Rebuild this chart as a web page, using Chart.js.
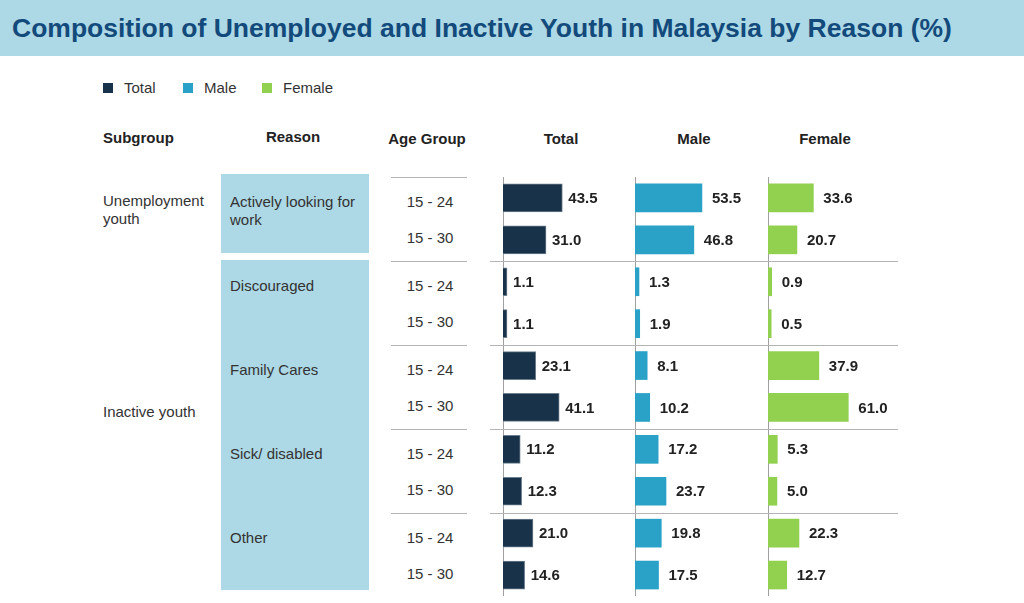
<!DOCTYPE html>
<html>
<head>
<meta charset="utf-8">
<title>Composition of Unemployed and Inactive Youth in Malaysia by Reason (%)</title>
<script src="https://cdn.jsdelivr.net/npm/chart.js@4.4.1/dist/chart.umd.min.js"></script>
<style>
  body {
    margin: 0;
    width: 1024px;
    height: 603px;
    position: relative;
    overflow: hidden;
    background: #fff;
    font-family: "Liberation Sans", Arial, sans-serif;
    color: #333;
  }
  .abs { position: absolute; white-space: nowrap; }
  #band { left: 0; top: 0; width: 1024px; height: 56px; background: #add8e5; }
  .box { background: #add8e5; }
  .rule { height: 1px; background: #b4b4b4; }
  .sq { width: 10px; height: 10px; }
  canvas { position: absolute; }
</style>
</head>
<body>
<div id="band" class="abs"></div>
<div class="abs box" style="left:221px; top:174px; width:148px; height:79px;"></div>
<div class="abs box" style="left:221px; top:260px; width:148px; height:330px;"></div>

<canvas id="totalChart" width="133" height="419" style="left:503px; top:177px;"></canvas>
<canvas id="maleChart" width="123" height="419" style="left:635px; top:177px;"></canvas>
<canvas id="femaleChart" width="130" height="419" style="left:768px; top:177px;"></canvas>

<script>
// --- data ---
const ageGroups = ['15 - 24', '15 - 30', '15 - 24', '15 - 30', '15 - 24', '15 - 30', '15 - 24', '15 - 30', '15 - 24', '15 - 30'];
const reasons = [['Actively looking for', 'work'], ['Discouraged'], ['Family Cares'], ['Sick/ disabled'], ['Other']];
const subgroups = [['Unemployment', 'youth'], ['Inactive youth']];
const seriesNames = ['Total', 'Male', 'Female'];
const columnHeaders = ['Subgroup', 'Reason', 'Age Group', 'Total', 'Male', 'Female'];

const totalValues  = [43.5, 31.0, 1.1, 1.1, 23.1, 41.1, 11.2, 12.3, 21.0, 14.6];
const maleValues   = [53.5, 46.8, 1.3, 1.9, 8.1, 10.2, 17.2, 23.7, 19.8, 17.5];
const femaleValues = [33.6, 20.7, 0.9, 0.5, 37.9, 61.0, 5.3, 5.0, 22.3, 12.7];

const colors = ['#183349', '#2aa1c6', '#92d050'];
const axisMin = -2;
const axisMax = 100;

// --- text helpers ---
function addText(str, x, base, size, opts) {
  opts = opts || {};
  const d = document.createElement('div');
  d.className = 'abs';
  d.textContent = str;
  d.style.fontSize = size + 'px';
  d.style.lineHeight = size + 'px';
  d.style.top = (base - 0.8465 * size) + 'px';
  d.style.left = x + 'px';
  if (opts.bold) d.style.fontWeight = 'bold';
  if (opts.color) d.style.color = opts.color;
  if (opts.center) d.style.transform = 'translateX(-50%)';
  document.body.appendChild(d);
  return d;
}

function addRule(x, y, w) {
  const d = document.createElement('div');
  d.className = 'abs rule';
  d.style.left = x + 'px';
  d.style.top = y + 'px';
  d.style.width = w + 'px';
  document.body.appendChild(d);
}

// title
addText('Composition of Unemployed and Inactive Youth in Malaysia by Reason (%)', 12, 37, 26.5, { bold: true, color: '#134a7c' });

// legend
const legendX = [103, 183, 262];
seriesNames.forEach(function(name, i) {
  const sq = document.createElement('div');
  sq.className = 'abs sq';
  sq.style.left = legendX[i] + 'px';
  sq.style.top = '83px';
  sq.style.background = colors[i];
  document.body.appendChild(sq);
  addText(name, legendX[i] + 21, 93, 15);
});

// column headers
addText(columnHeaders[0], 103, 143, 15, { bold: true, color: '#222' });
const headerCenters = [293, 427, 561, 694, 825];
columnHeaders.slice(1).forEach(function(h, i) {
  addText(h, headerCenters[i], i === 0 ? 142 : 144, 15, { bold: true, color: '#222', center: true });
});

// subgroups
addText(subgroups[0][0], 103, 206, 15);
addText(subgroups[0][1], 103, 224, 15);
addText(subgroups[1][0], 103, 417, 15);

// reasons, age groups and rules (groups of two rows, 84px tall)
reasons.forEach(function(lines, g) {
  const top = 177 + 84 * g;
  lines.forEach(function(line, k) {
    addText(line, 230, top + 30 + 18 * k, 15);
  });
  addText(ageGroups[2 * g], 430, top + 30, 15, { center: true });
  addText(ageGroups[2 * g + 1], 430, top + 66, 15, { center: true });
  addRule(391, top, 76);
  if (g > 0) addRule(490, top, 408);
});

// --- charts ---
const valueLabels = {
  id: 'valueLabels',
  afterDatasetsDraw(chart, args, opts) {
    const ctx = chart.ctx;
    const meta = chart.getDatasetMeta(0);
    const data = chart.data.datasets[0].data;
    ctx.save();
    ctx.font = 'bold 15px "Liberation Sans", Arial, sans-serif';
    ctx.fillStyle = '#222';
    ctx.textAlign = 'left';
    ctx.textBaseline = 'middle';
    meta.data.forEach(function(bar, i) {
      ctx.fillText(data[i].toFixed(1), bar.x + opts.gap, bar.y + 1);
    });
    ctx.restore();
  }
};

function makePanel(id, values, color, borderColor, gap) {
  new Chart(document.getElementById(id), {
    type: 'bar',
    data: {
      labels: ageGroups,
      datasets: [{
        data: values,
        backgroundColor: color,
        borderColor: borderColor,
        borderWidth: borderColor ? 1 : 0,
        barThickness: 28,
        base: axisMin
      }]
    },
    options: {
      indexAxis: 'y',
      responsive: false,
      animation: false,
      layout: { padding: 0 },
      plugins: {
        legend: { display: false },
        tooltip: { enabled: false },
        valueLabels: { gap: gap }
      },
      scales: {
        x: { display: false, min: axisMin, max: axisMax },
        y: {
          grid: { display: false, drawTicks: false },
          ticks: { display: false },
          border: { display: true, color: '#a0a0a0', width: 1 }
        }
      }
    },
    plugins: [valueLabels]
  });
}

makePanel('totalChart', totalValues, colors[0], '#6d7e8c', 6);
makePanel('maleChart', maleValues, colors[1], null, 10);
makePanel('femaleChart', femaleValues, colors[2], null, 10);
</script>
</body>
</html>
